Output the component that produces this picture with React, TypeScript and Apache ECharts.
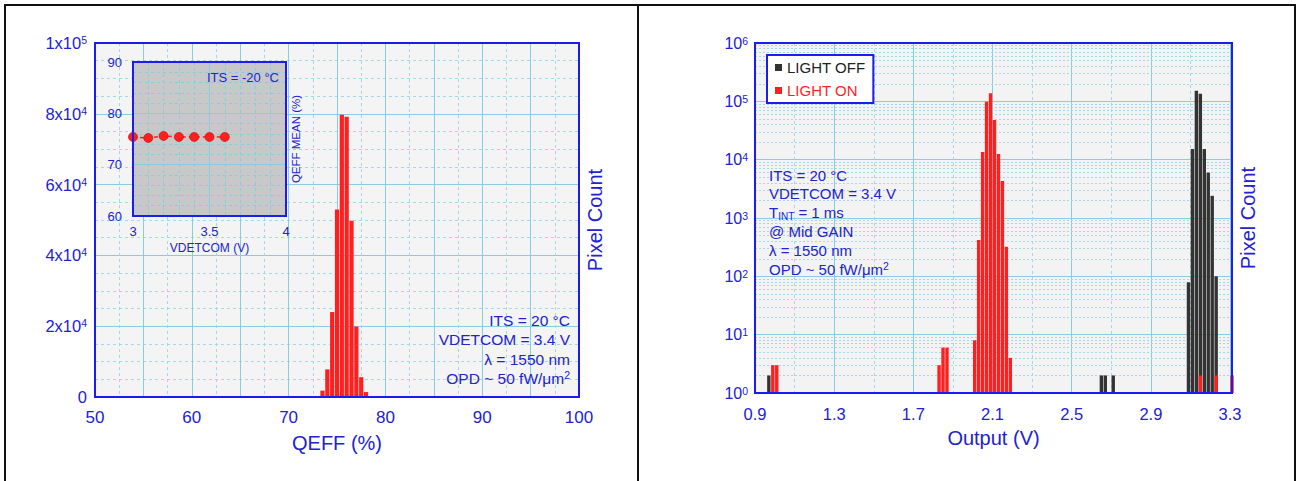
import React, { useEffect, useRef } from 'react';
import * as echarts from 'echarts';

// ---------- data ----------
const qeffBins = [73.5, 74.0, 74.5, 75.0, 75.5, 76.0, 76.5, 77.0, 77.5, 78.0];
const qeffCounts = [1800, 7800, 24000, 53000, 79700, 79200, 49800, 19900, 5600, 1400];

const insetVdetcom = [3.0, 3.1, 3.2, 3.3, 3.4, 3.5, 3.6];
const insetQeffMean = [75.4, 75.2, 75.6, 75.4, 75.4, 75.4, 75.4];

const lightOffVolts = [0.97, 2.65, 2.67, 2.71, 3.09, 3.11, 3.13, 3.15, 3.17, 3.19, 3.21, 3.23];
const lightOffCounts = [2, 2, 2, 2, 79, 15200, 152000, 135000, 15200, 6000, 2400, 100];

const lightOnVolts = [0.99, 1.01, 1.83, 1.85, 1.87, 2.01, 2.03, 2.05, 2.07, 2.09, 2.11, 2.13, 2.15, 2.17, 2.19, 3.15, 3.23, 3.31];
const lightOnCounts = [3, 3, 3, 6, 6, 8, 420, 13500, 98000, 137000, 48000, 12500, 4300, 320, 4, 2, 2, 2];

const minorLogMultipliers = [2, 3, 4, 5, 6, 7, 8, 9];
const logDecades = [1, 10, 100, 1000, 10000, 100000];

const leftNotes = ['ITS = 20 °C', 'VDETCOM = 3.4 V', 'λ = 1550 nm', 'OPD ~ 50 fW/μm{sup|2}'];
const rightNotes = ['ITS = 20 °C', 'VDETCOM = 3.4 V', 'T{sub|INT} = 1 ms', '@ Mid GAIN', 'λ = 1550 nm', 'OPD ~ 50 fW/μm{sup|2}'];
const insetNote = 'ITS = -20 °C';

// ---------- layout / style ----------
const FONT = 'Liberation Sans, Arial, sans-serif';
const BLUE = '#1c1cf0';
const TEXT = '#2222d2';
const MAJOR = '#86cde4';
const MINOR = '#a3d8ea';
const RED = '#ff1f1f';
const DARK = '#333333';

const L = { left: 95, top: 43, width: 484, height: 354 };
const IN = { left: 133, top: 62, width: 153, height: 154 };
const R = { left: 755, top: 43, width: 477, height: 350 };

const zip = (a: number[], b: number[]) => a.map((v, i) => [v, b[i]]);

const supRich = {
  sup: { fontSize: 10.5, verticalAlign: 'top', lineHeight: 10, color: TEXT, fontFamily: FONT },
  sub: { fontSize: 10, verticalAlign: 'bottom', lineHeight: 13, color: TEXT, fontFamily: FONT },
};

function buildOption() {
  const minorLines = logDecades.flatMap((d) => minorLogMultipliers.map((m) => ({ yAxis: m * d })));

  const graphics: any[] = [];
  const black = { stroke: '#111', lineWidth: 2 };
  graphics.push({ type: 'line', shape: { x1: 4, y1: 5, x2: 1296, y2: 5 }, style: black, z: 100 });
  graphics.push({ type: 'line', shape: { x1: 5, y1: 5, x2: 5, y2: 481 }, style: black, z: 100 });
  graphics.push({ type: 'line', shape: { x1: 638, y1: 5, x2: 638, y2: 481 }, style: black, z: 100 });
  graphics.push({ type: 'line', shape: { x1: 1295, y1: 5, x2: 1295, y2: 481 }, style: black, z: 100 });
  [L, IN, R].forEach((g) =>
    graphics.push({
      type: 'rect',
      shape: { x: g.left, y: g.top, width: g.width, height: g.height },
      style: { fill: 'none', stroke: BLUE, lineWidth: 2 },
      z: 100,
      silent: true,
    })
  );
  leftNotes.forEach((t, i) =>
    graphics.push({
      type: 'text',
      x: 570,
      y: 320 + i * 19.5,
      z: 50,
      style: {
        text: t,
        fill: TEXT,
        fontSize: 15.5,
        fontFamily: FONT,
        align: 'right',
        verticalAlign: 'middle',
        lineHeight: 18,
        rich: supRich,
      },
    })
  );
  rightNotes.forEach((t, i) =>
    graphics.push({
      type: 'text',
      x: 769,
      y: 175 + i * 18.9,
      z: 50,
      style: {
        text: t,
        fill: TEXT,
        fontSize: 15,
        fontFamily: FONT,
        align: 'left',
        verticalAlign: 'middle',
        lineHeight: 18,
        rich: supRich,
      },
    })
  );
  graphics.push({
    type: 'text',
    x: 279,
    y: 77,
    z: 50,
    style: { text: insetNote, fill: TEXT, fontSize: 13, fontFamily: FONT, align: 'right', verticalAlign: 'middle' },
  });

  const nameStyle = { color: TEXT, fontSize: 20, fontFamily: FONT };

  return {
    animation: false,
    backgroundColor: '#ffffff',
    textStyle: { fontFamily: FONT },
    grid: [
      { ...L, show: true, backgroundColor: '#f4f4f4', borderWidth: 0, containLabel: false },
      { ...IN, show: true, backgroundColor: '#c8c8c8', borderWidth: 0, containLabel: false, z: 1 },
      { ...R, show: true, backgroundColor: '#f3f3f3', borderWidth: 0, containLabel: false },
    ],
    legend: {
      show: true,
      orient: 'vertical',
      left: 767,
      top: 55,
      padding: [5, 8, 5, 8],
      itemGap: 8,
      itemWidth: 7,
      itemHeight: 7,
      icon: 'rect',
      backgroundColor: '#ffffff',
      borderColor: BLUE,
      borderWidth: 2,
      selectedMode: false,
      textStyle: { fontSize: 15, fontFamily: FONT },
      data: [
        { name: 'LIGHT OFF', textStyle: { color: '#222222' } },
        { name: 'LIGHT ON', textStyle: { color: RED } },
      ],
      z: 20,
    },
    xAxis: [
      {
        gridIndex: 0,
        type: 'value',
        min: 50,
        max: 100,
        interval: 5,
        axisLine: { show: false },
        axisTick: { show: false },
        axisLabel: {
          formatter: (v: number) => (v % 10 === 0 ? String(v) : ''),
          color: TEXT,
          fontSize: 17,
          margin: 12,
          fontFamily: FONT,
        },
        splitLine: { show: true, lineStyle: { color: MAJOR, width: 1 } },
        minorTick: { show: false, splitNumber: 2 },
        minorSplitLine: { show: true, lineStyle: { color: MINOR, width: 1, type: [3, 3] } },
        name: 'QEFF (%)',
        nameLocation: 'middle',
        nameGap: 36,
        nameTextStyle: nameStyle,
      },
      {
        gridIndex: 1,
        type: 'value',
        min: 3,
        max: 4,
        interval: 0.5,
        z: 1,
        axisLine: { show: false },
        axisTick: { show: false },
        axisLabel: { color: TEXT, fontSize: 13, margin: 9, fontFamily: FONT },
        splitLine: { show: true, lineStyle: { color: MAJOR, width: 1 } },
        minorTick: { show: false, splitNumber: 5 },
        minorSplitLine: { show: true, lineStyle: { color: MAJOR, width: 1, type: [3, 3] } },
        name: 'VDETCOM (V)',
        nameLocation: 'middle',
        nameGap: 26,
        nameTextStyle: { color: TEXT, fontSize: 12, fontFamily: FONT },
      },
      {
        gridIndex: 2,
        type: 'value',
        min: 0.9,
        max: 3.31,
        interval: 0.4,
        axisLine: { show: false },
        axisTick: { show: false },
        axisLabel: {
          formatter: (v: number) => (v > 3.305 ? '' : v.toFixed(1)),
          color: TEXT,
          fontSize: 16.5,
          margin: 12,
          fontFamily: FONT,
        },
        splitLine: { show: true, lineStyle: { color: MAJOR, width: 1 } },
        minorTick: { show: false, splitNumber: 2 },
        minorSplitLine: { show: true, lineStyle: { color: MINOR, width: 1, type: [3, 3] } },
        name: 'Output (V)',
        nameLocation: 'middle',
        nameGap: 35,
        nameTextStyle: nameStyle,
      },
    ],
    yAxis: [
      {
        gridIndex: 0,
        type: 'value',
        min: 0,
        max: 100000,
        interval: 20000,
        axisLine: { show: false },
        axisTick: { show: false },
        axisLabel: {
          formatter: (v: number) => {
            if (v === 0) return '0';
            const e = Math.floor(Math.log10(v) + 1e-9);
            const m = Math.round(v / Math.pow(10, e));
            return `${m}x10{sup|${e}}`;
          },
          color: TEXT,
          fontSize: 16.5,
          margin: 8,
          fontFamily: FONT,
          rich: supRich,
        },
        splitLine: { show: true, lineStyle: { color: MAJOR, width: 1 } },
        minorTick: { show: false, splitNumber: 4 },
        minorSplitLine: { show: true, lineStyle: { color: MINOR, width: 1, type: [3, 3] } },
      },
      {
        gridIndex: 0,
        type: 'value',
        position: 'right',
        min: 0,
        max: 100000,
        axisLine: { show: false },
        axisTick: { show: false },
        axisLabel: { show: false },
        splitLine: { show: false },
        name: 'Pixel Count',
        nameLocation: 'middle',
        nameGap: 6,
        nameTextStyle: nameStyle,
      },
      {
        gridIndex: 1,
        type: 'value',
        min: 60,
        max: 90,
        interval: 10,
        z: 1,
        axisLine: { show: false },
        axisTick: { show: false },
        axisLabel: { color: TEXT, fontSize: 13, margin: 11, fontFamily: FONT },
        splitLine: { show: true, lineStyle: { color: MAJOR, width: 1 } },
        minorTick: { show: false, splitNumber: 5 },
        minorSplitLine: { show: true, lineStyle: { color: MAJOR, width: 1, type: [3, 3] } },
      },
      {
        gridIndex: 1,
        type: 'value',
        position: 'right',
        min: 60,
        max: 90,
        z: 1,
        axisLine: { show: false },
        axisTick: { show: false },
        axisLabel: { show: false },
        splitLine: { show: false },
        name: 'QEFF MEAN (%)',
        nameLocation: 'middle',
        nameGap: 4,
        nameTextStyle: { color: TEXT, fontSize: 11.5, fontFamily: FONT },
      },
      {
        gridIndex: 2,
        type: 'log',
        logBase: 10,
        min: 1,
        max: 1000000,
        splitNumber: 6,
        axisLine: { show: false },
        axisTick: { show: false },
        axisLabel: {
          formatter: (v: number) => `10{sup|${Math.round(Math.log10(v))}}`,
          color: TEXT,
          fontSize: 16,
          margin: 7,
          fontFamily: FONT,
          rich: supRich,
        },
        splitLine: { show: true, lineStyle: { color: MAJOR, width: 1 } },
      },
      {
        gridIndex: 2,
        type: 'value',
        position: 'right',
        min: 0,
        max: 1,
        axisLine: { show: false },
        axisTick: { show: false },
        axisLabel: { show: false },
        splitLine: { show: false },
        name: 'Pixel Count',
        nameLocation: 'middle',
        nameGap: 6,
        nameTextStyle: nameStyle,
      },
    ],
    graphic: graphics,
    series: [
      {
        name: 'QEFF',
        type: 'bar',
        xAxisIndex: 0,
        yAxisIndex: 0,
        data: zip(qeffBins, qeffCounts),
        barWidth: 4.2,
        itemStyle: { color: RED },
        z: 2,
      },
      {
        name: 'QEFF MEAN',
        type: 'line',
        xAxisIndex: 1,
        yAxisIndex: 2,
        data: zip(insetVdetcom, insetQeffMean),
        symbol: 'circle',
        symbolSize: 9,
        lineStyle: { color: RED, width: 1.5, type: [4, 3] },
        itemStyle: { color: RED, borderColor: '#cc0000', borderWidth: 0.6 },
        z: 3,
      },
      {
        name: 'minor-grid',
        type: 'line',
        xAxisIndex: 2,
        yAxisIndex: 4,
        data: [],
        silent: true,
        markLine: {
          silent: true,
          z: 1,
          symbol: ['none', 'none'],
          label: { show: false },
          lineStyle: { color: MINOR, width: 1, type: [2, 2] },
          emphasis: { disabled: true },
          data: minorLines,
          animation: false,
        },
      },
      {
        name: 'LIGHT OFF',
        type: 'bar',
        xAxisIndex: 2,
        yAxisIndex: 4,
        data: zip(lightOffVolts, lightOffCounts),
        barWidth: 3.4,
        barGap: '-100%',
        itemStyle: { color: DARK },
        z: 2,
      },
      {
        name: 'LIGHT ON',
        type: 'bar',
        xAxisIndex: 2,
        yAxisIndex: 4,
        data: zip(lightOnVolts, lightOnCounts),
        barWidth: 3.4,
        barGap: '-100%',
        itemStyle: { color: RED },
        z: 3,
      },
    ],
  };
}

export default function App() {
  const ref = useRef<HTMLDivElement>(null);
  useEffect(() => {
    if (!ref.current) return;
    const chart = echarts.init(ref.current, null, { renderer: 'svg' });
    chart.setOption(buildOption() as any);
    return () => chart.dispose();
  }, []);
  return (
    <div
      ref={ref}
      style={{ position: 'fixed', left: 0, top: 0, width: 1301, height: 481, background: '#ffffff' }}
    />
  );
}
